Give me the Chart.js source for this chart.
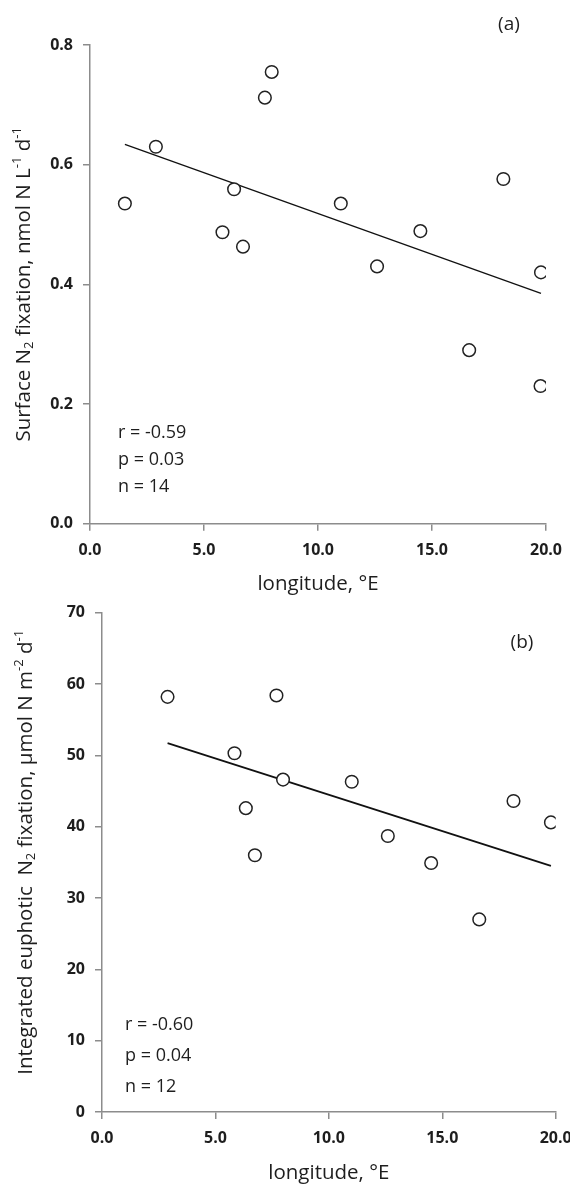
<!DOCTYPE html>
<html>
<head>
<meta charset="utf-8">
<script src="https://cdn.jsdelivr.net/npm/chart.js@4/dist/chart.umd.min.js"></script>
<style>
  html, body { margin: 0; padding: 0; background: #fff; }
  #wrap { position: relative; width: 570px; height: 1187px; overflow: hidden; }
  canvas { position: absolute; left: 0; }
  #chartA { top: 0; }
  #chartB { top: 596px; }
</style>
</head>
<body>
<div id="wrap">
  <canvas id="chartA" width="570" height="596"></canvas>
  <canvas id="chartB" width="570" height="591"></canvas>
</div>
<script>
// panel (a): surface N2 fixation vs longitude
var lonA = [1.53, 2.89, 5.81, 6.32, 6.71, 7.67, 7.97, 11.0, 12.59, 14.49, 16.63, 18.13, 19.76, 19.78]
var surfaceA = [0.535, 0.630, 0.487, 0.559, 0.463, 0.712, 0.755, 0.535, 0.430, 0.489, 0.290, 0.576, 0.230, 0.420]
var fitLonA = [1.53, 19.78]
var fitA = [0.634, 0.385]
var statsA = ['r = -0.59', 'p = 0.03', 'n = 14']

// panel (b): integrated euphotic N2 fixation vs longitude
var lonB = [2.89, 5.84, 6.34, 6.74, 7.69, 7.98, 11.01, 12.6, 14.51, 16.63, 18.14, 19.79]
var integratedB = [58.2, 50.3, 42.6, 36.0, 58.4, 46.6, 46.3, 38.7, 34.9, 27.0, 43.6, 40.6]
var fitLonB = [2.89, 19.79]
var fitB = [51.7, 34.5]
var statsB = ['r = -0.60', 'p = 0.04', 'n = 12']

var xTicks = [0, 5, 10, 15, 20]
var yTicksA = [0, 0.2, 0.4, 0.6, 0.8]
var yTicksB = [0, 10, 20, 30, 40, 50, 60, 70]

var FONT = '"Open Sans", Lato, sans-serif'
var INK = '#1e1e1e'
var AXIS = '#8c8c8c'

function pairs(xs, ys) {
  return xs.map(function (x, i) { return { x: x, y: ys[i] } })
}

// text made of pieces, some of them sub/superscript
function richWidth(ctx, parts, size) {
  var w = 0
  parts.forEach(function (p) {
    ctx.font = (p.sub || p.sup ? Math.round(size * 0.62) : size) + 'px ' + FONT
    w += ctx.measureText(p.t).width
  })
  return w
}

function drawRich(ctx, parts, size, cx, cy, rotate) {
  ctx.save()
  ctx.translate(cx, cy)
  if (rotate) ctx.rotate(-Math.PI / 2)
  ctx.fillStyle = INK
  ctx.textBaseline = 'middle'
  ctx.textAlign = 'left'
  var x = -richWidth(ctx, parts, size) / 2
  parts.forEach(function (p) {
    var small = p.sub || p.sup
    ctx.font = (small ? Math.round(size * 0.62) : size) + 'px ' + FONT
    var dy = p.sub ? size * 0.28 : (p.sup ? -size * 0.33 : 0)
    ctx.fillText(p.t, x, dy)
    x += ctx.measureText(p.t).width
  })
  ctx.restore()
}

function labelsPlugin(opt) {
  return {
    id: 'panelLabels',
    afterDraw: function (chart) {
      var ctx = chart.ctx
      var area = chart.chartArea
      drawRich(ctx, opt.yTitle, 20.5, opt.yTitleX, (area.top + area.bottom) / 2 + opt.yTitleShift, true)
      drawRich(ctx, [{ t: 'longitude, °E' }], 20.5, (area.left + area.right) / 2, opt.xTitleY, false)
      drawRich(ctx, [{ t: opt.tag }], 19, opt.tagX, opt.tagY, false)
      ctx.save()
      ctx.fillStyle = INK
      ctx.font = '18px ' + FONT
      ctx.textBaseline = 'middle'
      opt.stats.forEach(function (s, i) {
        ctx.fillText(s, opt.statsX, opt.statsY + i * opt.statsGap)
      })
      ctx.restore()
    }
  }
}

function axisOptions(min, max, ticksList, fmt, isX, size) {
  return {
    type: 'linear',
    min: min,
    max: max,
    afterBuildTicks: function (scale) {
      scale.ticks = ticksList.map(function (v) { return { value: v } })
    },
    afterFit: function (scale) {
      if (isX) {
        scale.height = size
        scale.paddingLeft = 0
        scale.paddingRight = 0
      } else {
        scale.width = size
        scale.paddingTop = 0
        scale.paddingBottom = 0
      }
    },
    border: { display: true, color: AXIS, width: 1.5 },
    grid: { drawOnChartArea: false, drawTicks: true, tickLength: 7, color: AXIS, lineWidth: 1.5 },
    ticks: {
      color: INK,
      padding: 10,
      maxRotation: 0,
      autoSkip: false,
      font: { family: FONT, size: 16, weight: 'bold' },
      callback: function (v) { return fmt(v) }
    }
  }
}

function makeChart(id, pts, fitPts, lineW, xAxis, yAxis, pad, plugin) {
  var ctx = document.getElementById(id).getContext('2d')
  return new Chart(ctx, {
    type: 'scatter',
    data: {
      datasets: [{
        data: fitPts,
        showLine: true,
        borderColor: '#111',
        borderWidth: lineW,
        pointRadius: 0,
        order: 2
      }, {
        data: pts,
        pointRadius: 6.3,
        pointBorderWidth: 1.5,
        pointBorderColor: '#222',
        pointBackgroundColor: '#fff',
        order: 1
      }]
    },
    options: {
      responsive: false,
      animation: false,
      layout: { padding: pad },
      plugins: { legend: { display: false }, tooltip: { enabled: false } },
      scales: { x: xAxis, y: yAxis }
    },
    plugins: [plugin]
  })
}

var oneDec = function (v) { return v.toFixed(1) }
var noDec = function (v) { return v.toFixed(0) }

var chartA = makeChart('chartA',
  pairs(lonA, surfaceA),
  pairs(fitLonA, fitA), 1.3,
  axisOptions(0, 20, xTicks, oneDec, true, 72.3),
  axisOptions(0, 0.8, yTicksA, oneDec, false, 90),
  { left: 0, top: 45, right: 24, bottom: 0 },
  labelsPlugin({
    yTitle: [{ t: 'Surface N' }, { t: '2', sub: true }, { t: ' fixation, nmol N L' }, { t: '-1', sup: true }, { t: ' d' }, { t: '-1', sup: true }],
    yTitleX: 24, yTitleShift: 0,
    xTitleY: 584,
    tag: '(a)', tagX: 509, tagY: 25,
    stats: statsA, statsX: 118, statsY: 433, statsGap: 27
  })
)

var chartB = makeChart('chartB',
  pairs(lonB, integratedB),
  pairs(fitLonB, fitB), 1.8,
  axisOptions(0, 20, xTicks, oneDec, true, 75),
  axisOptions(0, 70, yTicksB, noDec, false, 102),
  { left: 0, top: 16.7, right: 14.3, bottom: 0 },
  labelsPlugin({
    yTitle: [{ t: 'Integrated euphotic  N' }, { t: '2', sub: true }, { t: ' fixation, µmol N m' }, { t: '-2', sup: true }, { t: ' d' }, { t: '-1', sup: true }],
    yTitleX: 26, yTitleShift: -10,
    xTitleY: 577,
    tag: '(b)', tagX: 522, tagY: 47,
    stats: statsB, statsX: 125, statsY: 429, statsGap: 31
  })
)
</script>
</body>
</html>
